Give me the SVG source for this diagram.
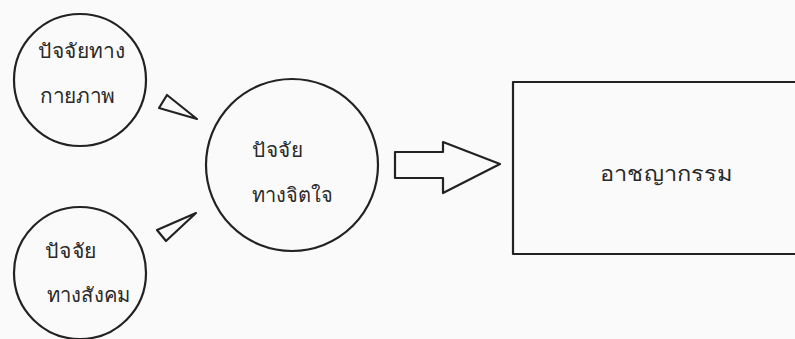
<svg xmlns="http://www.w3.org/2000/svg" width="795" height="339" viewBox="0 0 795 339">
<style>
.shape{fill:none;stroke:#222;stroke-width:2.2;stroke-linejoin:round}
.lbl{font-family:"Noto Sans","DejaVu Sans",sans-serif;font-size:20px;fill:#2a2a2a}
</style>
<rect x="0" y="0" width="795" height="339" fill="#fafafa"/>
<g id="physical">
<circle class="shape" cx="80" cy="80" r="66"/>
<text class="lbl" x="38" y="58" textLength="87" lengthAdjust="spacingAndGlyphs">ปัจจัยทาง</text>
<text class="lbl" x="40" y="103" textLength="75" lengthAdjust="spacingAndGlyphs">กายภาพ</text>
</g>
<g id="social">
<circle class="shape" cx="80" cy="273" r="66"/>
<text class="lbl" x="45" y="258" textLength="52" lengthAdjust="spacingAndGlyphs">ปัจจัย</text>
<text class="lbl" x="47" y="302" textLength="83" lengthAdjust="spacingAndGlyphs">ทางสังคม</text>
</g>
<g id="psych">
<circle class="shape" cx="292" cy="165" r="86"/>
<text class="lbl" x="252" y="157" textLength="51" lengthAdjust="spacingAndGlyphs">ปัจจัย</text>
<text class="lbl" x="252" y="202" textLength="81" lengthAdjust="spacingAndGlyphs">ทางจิตใจ</text>
</g>
<g id="crime">
<rect class="shape" x="513" y="82" width="300" height="172"/>
<text class="lbl" x="600" y="181" textLength="132" lengthAdjust="spacingAndGlyphs">อาชญากรรม</text>
</g>
<g id="connectors">
<polygon class="shape" points="159,108 167,95 197,119"/>
<polygon class="shape" points="157,230 166,241 196,213"/>
<polygon class="shape" points="395,152 443,152 443,142 500,164 443,193 443,178 395,178"/>
</g>
</svg>
